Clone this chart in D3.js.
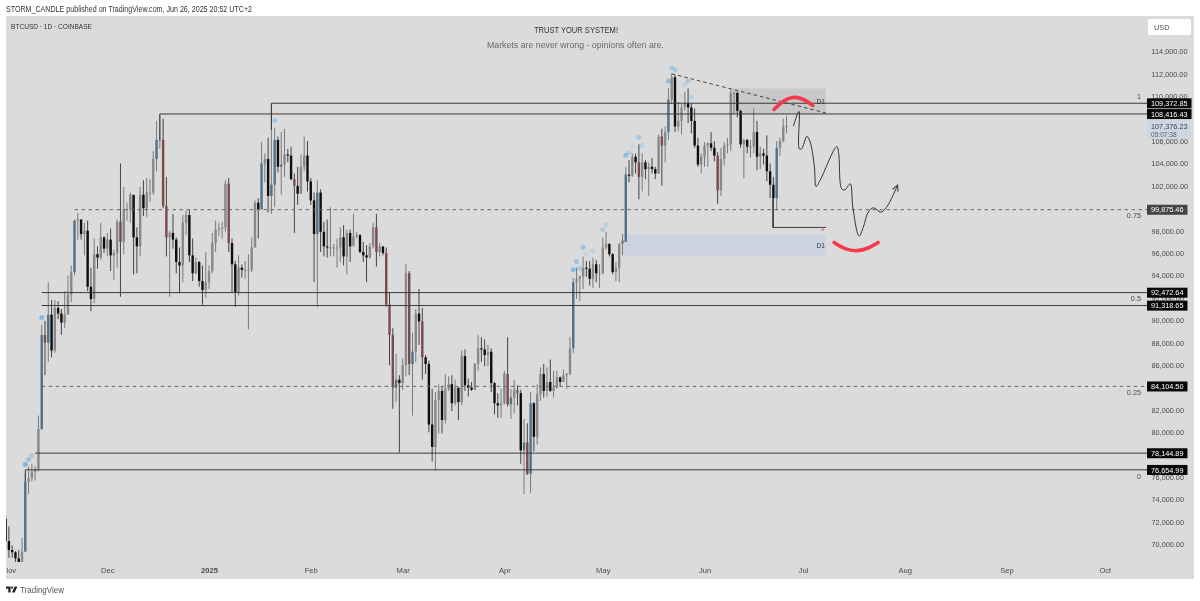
<!DOCTYPE html>
<html>
<head>
<meta charset="utf-8">
<script src="https://cdn.jsdelivr.net/npm/d3@7"></script>
<style>
  html, body { margin: 0; padding: 0; background: #fff; }
  svg { display: block; filter: blur(.35px); }
  text { font-family: "Liberation Sans", Arial, sans-serif; }
  .domain { display: none; }
</style>
</head>
<body>
<div class="canvas"></div>
<script>
// Daily candles, Oct 31 2024 to Jun 26 2025. Each open is the previous close.
const firstDay = '2024-10-31';
const firstOpen = 72300;

const closes = [
  70300,
  69500, 69300, 68750, 67800, 69350, 75600, 75900, 76500, 76700, 80300,
  88700, 88000, 90500, 87300, 91100, 90600, 89800, 90500, 92300, 94300,
  98900, 99000, 97700, 98000, 93000, 91900, 95900, 95600, 97400, 96400,
  97200, 95800, 96000, 98800, 97000, 99900, 99900, 101200, 97400, 96600,
  101200, 100000, 101400, 101400, 104400, 106100, 106100, 100200, 97400, 97800,
  97200, 95200, 94900, 98700, 99400, 95800, 94200, 95200, 93500, 92700, 93400,
  94400, 96900, 98100, 98200, 98300, 102200, 96900, 95000, 92500, 94700,
  94500, 94500, 94500, 96500, 100500, 99900, 104000, 104400, 101100, 102100,
  106100, 103700, 103900, 104800, 104700, 102600, 102000, 101300, 103700, 104700, 102400,
  100700, 97700, 101400, 97900, 96600, 96500, 96500, 96500, 96500, 97400,
  95700, 97800, 96600, 97500, 97600, 96100, 95800, 95600, 96600, 98300,
  96100, 96600, 96000, 91400, 88700, 84000, 84700, 84400,
  86000, 94200, 86100, 87200, 90600, 89900, 86700, 86100, 80700, 78700,
  82900, 83700, 81100, 83900, 84300, 82600, 84000, 82700, 86800, 84200,
  84000, 83800, 86100, 87500, 87400, 86900, 87200, 84400, 82600, 82400, 82600,
  85200, 82500, 83100, 83800, 83500, 78400, 79100, 76300, 82600, 79600,
  83400, 85200, 83700, 84500, 83700, 84000, 84900, 84500, 85100, 85200,
  87500, 93400, 93700, 93900, 94700, 94600, 93700, 95000, 94200, 94200,
  96500, 96800, 95900, 94300, 94700, 96800, 97000, 103000, 102900, 104600,
  104100, 102800, 104100, 103500, 103700, 103500, 103100, 106400, 105600, 106800,
  109700, 111700, 107300, 107800, 109000, 109400, 109000, 107800, 105600, 103900, 104600,
  105600, 105800, 105400, 104700, 101600, 104400, 105600, 105700, 110300, 110300,
  108700, 105700, 106100, 105500, 105500, 106800, 104600, 104900, 104700, 103300,
  102100, 100900, 105400, 106000, 107300, 107376
];
const highs = [
  72700,
  71600, 69900, 69400, 69500, 70570, 76400, 76950, 77200, 77000, 81500,
  89600, 89950, 93400, 91800, 91800, 91700, 91000, 92600, 94000, 94900,
  99000, 99600, 99000, 98700, 98900, 94700, 97300, 96600, 98700, 97500,
  97800, 98200, 96300, 99000, 104000, 101900, 100500, 101400, 101200, 98300,
  101900, 102500, 102700, 102600, 105100, 107800, 108300, 108000, 102800, 98000,
  99500, 97400, 96500, 99400, 99800, 99900, 97300, 95600, 95300, 94900, 96100,
  94900, 97800, 98900, 98700, 98800, 102500, 102700, 97300, 95300, 95800,
  95000, 95300, 95900, 97400, 100700, 100900, 105900, 104900, 106300, 109372,
  107200, 106400, 106800, 107100, 105300, 105500, 103100, 103700, 104800, 106400, 106000,
  102700, 101400, 102500, 101700, 98800, 99000, 100100, 96800, 97300, 98300,
  98500, 98100, 98100, 99500, 97900, 97700, 97000, 96700, 96900, 98700,
  99500, 96900, 96500, 96500, 92500, 89300, 87000, 85100,
  86600, 95000, 94400, 88900, 91000, 92800, 91100, 86900, 86400, 83900,
  83600, 84300, 84100, 85200, 85000, 85100, 84700, 83900, 87300, 87400,
  84800, 84500, 86200, 88700, 88500, 88300, 87800, 87500, 84500, 83500, 83900,
  85500, 88500, 83900, 84700, 84200, 83800, 81200, 80800, 83600, 82700,
  84300, 85800, 86100, 85800, 86500, 85500, 85500, 85000, 85600, 85300,
  88500, 93800, 94700, 94000, 95700, 95300, 95300, 95600, 95400, 95000,
  97400, 97900, 96900, 96000, 95200, 96900, 97700, 103700, 104300, 104900,
  104900, 105700, 104900, 104300, 104100, 104500, 103700, 106600, 107100, 107300,
  110700, 112000, 111900, 109500, 109300, 110400, 110700, 109300, 108900, 106300, 104900,
  105900, 105900, 106800, 106000, 105000, 105400, 105900, 106300, 110600, 110400,
  110400, 108800, 106200, 106200, 106100, 108900, 107800, 105500, 105300, 106500,
  104000, 102800, 106000, 106300, 108000, 108272
];
const lows = [
  69700,
  68800, 68800, 66800, 66800, 67450, 69400, 74500, 75600, 75700, 76500,
  80200, 85100, 86300, 86700, 87100, 90100, 88700, 89300, 91500, 91600,
  94000, 97200, 97200, 95800, 92600, 90800, 91500, 94600, 95400, 96000,
  95700, 94400, 93600, 94700, 92100, 95900, 98900, 98700, 94100, 94200,
  95700, 99300, 99200, 100600, 101200, 103300, 105300, 100000, 95700, 92100,
  96400, 94200, 92400, 93400, 97600, 95200, 93500, 94100, 93000, 91400, 92000,
  92800, 94200, 96100, 97500, 97300, 97900, 96100, 92500, 91200, 92200,
  93800, 93700, 89200, 94300, 96500, 97300, 99900, 102300, 99600, 99500,
  100100, 103200, 101200, 102800, 104100, 102500, 97800, 100300, 101300, 103300, 101500,
  100300, 93400, 91200, 96100, 95700, 95600, 95700, 95700, 94700, 95200,
  94900, 94100, 95200, 96800, 97300, 96000, 95200, 93400, 95500, 96400,
  94800, 95700, 95800, 91200, 86000, 82100, 82700, 78200,
  83800, 85000, 85100, 81500, 86300, 87800, 84700, 85200, 80000, 77400,
  76600, 79900, 79900, 80800, 83700, 81900, 82400, 81100, 82400, 83700,
  83200, 83700, 83800, 85500, 86300, 85900, 85900, 83600, 81600, 81300, 81300,
  82500, 82300, 81200, 81700, 82400, 77200, 74500, 76200, 74600, 78300,
  78900, 82800, 83100, 83200, 83600, 83100, 83900, 84100, 84500, 83900,
  85100, 87100, 91900, 91700, 92800, 93900, 93100, 92900, 93400, 92900,
  94100, 96300, 95700, 94100, 93500, 93400, 95800, 97300, 102300, 102800,
  103100, 100800, 101500, 102600, 101100, 103100, 102600, 103100, 102000, 104100,
  106100, 109300, 106800, 106900, 106600, 108700, 107600, 106700, 105400, 103700, 103100,
  103700, 103700, 105100, 104200, 100400, 101100, 103800, 104900, 105100, 108400,
  108100, 105400, 102700, 104900, 104500, 104900, 103400, 103500, 103900, 102400,
  100900, 98290, 99800, 104700, 105900, 106700
];

const blueDays = ['2024-11-06', '2024-11-11', '2024-11-13', '2024-11-21', '2024-12-16', '2025-01-17', '2025-01-20',
  '2025-01-21', '2025-01-23', '2025-02-03', '2025-02-27', '2025-03-04', '2025-04-03', '2025-04-05', '2025-04-07',
  '2025-04-09', '2025-04-22', '2025-05-08', '2025-05-21', '2025-06-23'];
const redDays = ['2024-11-12', '2024-12-05', '2024-12-18', '2024-12-19', '2025-01-07', '2025-01-27', '2025-02-21',
  '2025-02-24', '2025-02-25', '2025-02-26', '2025-03-03', '2025-03-07', '2025-04-02', '2025-04-08', '2025-05-12',
  '2025-05-19', '2025-06-05'];

// Horizontal levels
const levelPrices = [109372.85, 108416.43, 99875.46, 92472.64, 91318.65, 84104.50, 78144.89, 76654.99];
const levelStarts = ['2025-01-20', '2024-12-17', '2024-11-21', '2024-11-11', '2024-11-11', '2024-11-11', '2024-11-09', '2024-11-06'];
const levelDashed = [false, false, true, false, false, true, false, false];
const fibLabels = ['1', '0.75', '0.5', '0.25', '0'];
const fibPrices = [110000, 99340, 91950, 83560, 76030];

// Blue signal dots
const dotDays = ['2024-11-06', '2024-11-07', '2024-11-08', '2024-11-11', '2025-01-21', '2025-04-22', '2025-04-23',
  '2025-04-24', '2025-04-25', '2025-04-26', '2025-04-28', '2025-05-01', '2025-05-02', '2025-05-08', '2025-05-09',
  '2025-05-10', '2025-05-12', '2025-05-13', '2025-05-21', '2025-05-22', '2025-05-23', '2025-05-25', '2025-05-26',
  '2025-05-27', '2025-05-28'];
const dotPrices = [77123, 77570, 77928, 90249, 107839, 94508, 95241, 94652, 96526, 95874, 96204, 98107, 98527,
  104740, 104955, 105544, 106348, 105607, 111348, 112544, 112366, 109982, 111027, 111348, 109919];
const dotAlpha = [.9, .6, .45, .8, .5, .75, .6, .45, .6, .15, .3, .4, .3, .75, .35, .12, .5, .3, .7, .45, .4, .12, .25, .45, .3];

// Hand drawn projection, in days after Nov 1 2024 and price
const forecastDays = [239.1, 240.8, 240.9, 241.6, 243.2, 244.2, 245.5, 246.0, 247.2, 252.3, 252.9, 253.8, 254.8, 256.4,
  257.2, 259.1, 260.4, 261.9, 263.5, 265.7, 267.5, 270.8];
const forecastPrices = [107333, 108643, 105310, 105310, 106411, 105904, 103672, 101946, 102482, 105518, 104863, 101738,
  101649, 102185, 100101, 97512, 98315, 99655, 100042, 99655, 100101, 102036];
const topArcDays = [233.2, 236, 239, 242, 245];
const topArcPrices = [108821, 109625, 109982, 109803, 109178];
const bottomArcDays = [251.5, 254.8, 258.5, 261.9, 264.9];
const bottomArcPrices = [96946, 96320, 96142, 96410, 96946];

// Ticks fully covered by a price tag in the reference are left out
const priceTicks = [70000, 72000, 74000, 76000, 80000, 82000, 86000, 88000, 90000, 92000, 94000, 96000, 98000,
  102000, 104000, 106000, 110000, 112000, 114000];
const monthDays = ['2024-11-01', '2024-12-01', '2025-01-01', '2025-02-01', '2025-03-01', '2025-04-01', '2025-05-01',
  '2025-06-01', '2025-07-01', '2025-08-01', '2025-09-01', '2025-10-01'];
const monthLabels = ['Nov', 'Dec', '2025', 'Feb', 'Mar', 'Apr', 'May', 'Jun', 'Jul', 'Aug', 'Sep', 'Oct'];

const dims = { width: 1200, height: 601, left: 6, top: 16, right: 1194, bottom: 579, plotBottom: 562, plotRight: 1147 };
const colours = { bg: '#dbdbdb', up: '#888888', upWick: '#7a7a7a', down: '#0e0e0e', downWick: '#444444',
  blue: '#4f7189', red: '#7c4a4a', line: '#3a3a3a', red2: '#f5384e', text: '#4a4a4a' };

const parse = d3.utcParse('%Y-%m-%d');
const day0 = parse(firstDay);
const nov1 = parse('2024-11-01');
const dayFrac = d => new Date(nov1.getTime() + d * 864e5);

const x = d3.scaleUtc()
    .domain([parse('2024-11-06'), parse('2025-06-23')])
    .range([25.3, 776.7]);
const y = d3.scaleLinear()
    .domain([70000, 114000])
    .range([544.4, 51.4]);

const candles = closes.map((close, i) => ({
  date: d3.utcDay.offset(day0, i),
  open: i === 0 ? firstOpen : closes[i - 1],
  close: close,
  high: highs[i],
  low: lows[i]
}));
const fmtDay = d3.utcFormat('%Y-%m-%d');
const bodyColour = d => {
  if (blueDays.includes(fmtDay(d.date))) return colours.blue;
  if (redDays.includes(fmtDay(d.date))) return colours.red;
  return d.close >= d.open ? colours.up : colours.down;
};

const svg = d3.select('.canvas').append('svg')
    .attr('width', dims.width)
    .attr('height', dims.height);

svg.append('clipPath').attr('id', 'plot').append('rect')
    .attr('x', dims.left).attr('y', dims.top)
    .attr('width', dims.plotRight - dims.left).attr('height', dims.plotBottom - dims.top);

svg.append('rect')
    .attr('x', dims.left).attr('y', dims.top)
    .attr('width', dims.right - dims.left).attr('height', dims.bottom - dims.top)
    .attr('fill', colours.bg);

// Header and titles, fitted to the widths in the picture
const fitted = (tx, ty, size, fill, len, str) => svg.append('text')
    .attr('x', tx).attr('y', ty).attr('font-size', size).attr('fill', fill)
    .attr('textLength', len).attr('lengthAdjust', 'spacingAndGlyphs').text(str);
fitted(6, 12, 8.2, '#333', 246, 'STORM_CANDLE published on TradingView.com, Jun 26, 2025 20:52 UTC+2');
fitted(11, 28.5, 7.6, '#333', 81, 'BTCUSD · 1D · COINBASE');
fitted(534, 33, 8.4, '#333', 84, 'TRUST YOUR SYSTEM!');
fitted(487, 47.5, 9, '#6a6a6a', 177, 'Markets are never wrong - opinions often are.');

const plot = svg.append('g').attr('clip-path', 'url(#plot)');

// Zones
plot.append('rect')
    .attr('x', x(parse('2025-06-10')) - 2).attr('y', y(110700))
    .attr('width', x(parse('2025-07-08')) - x(parse('2025-06-10')) + 2).attr('height', y(108416) - y(110700))
    .attr('fill', '#c8c8c8');
plot.append('rect')
    .attr('x', x(parse('2025-05-07'))).attr('y', y(97650))
    .attr('width', x(parse('2025-07-08')) - x(parse('2025-05-07'))).attr('height', y(95800) - y(97650))
    .attr('fill', '#ccd2df');
plot.append('circle')
    .attr('cx', x(parse('2025-05-07'))).attr('cy', y(97000)).attr('r', 1.3)
    .attr('fill', 'none').attr('stroke', '#666').attr('stroke-width', .7);

// Signal dots
plot.selectAll('.dot').data(dotDays).join('circle')
    .attr('class', 'dot')
    .attr('cx', d => x(parse(d)))
    .attr('cy', (d, i) => y(dotPrices[i]))
    .attr('r', 2.5)
    .attr('fill', '#6fb3e6')
    .attr('opacity', (d, i) => dotAlpha[i]);

// Candles
const candle = plot.selectAll('.candle').data(candles).join('g').attr('class', 'candle');
candle.append('line')
    .attr('x1', d => x(d.date)).attr('x2', d => x(d.date))
    .attr('y1', d => y(d.high)).attr('y2', d => y(d.low))
    .attr('stroke', d => d.close >= d.open ? colours.upWick : colours.downWick)
    .attr('stroke-width', 1);
candle.append('rect')
    .attr('x', d => x(d.date) - 1.2)
    .attr('width', 2.4)
    .attr('y', d => y(Math.max(d.open, d.close)))
    .attr('height', d => Math.max(1, Math.abs(y(d.open) - y(d.close))))
    .attr('fill', bodyColour);

// Levels with the short drop at their anchor
levelPrices.forEach((price, i) => {
  plot.append('line')
      .attr('x1', x(parse(levelStarts[i]))).attr('x2', dims.plotRight)
      .attr('y1', y(price)).attr('y2', y(price))
      .attr('stroke', levelDashed[i] ? '#666' : colours.line)
      .attr('stroke-width', 1)
      .attr('stroke-dasharray', levelDashed[i] ? '3.5,3.5' : null);
});
plot.append('line')
    .attr('x1', x(parse('2024-12-17'))).attr('x2', x(parse('2024-12-17')))
    .attr('y1', y(108416)).attr('y2', y(106100)).attr('stroke', colours.line);
plot.append('line')
    .attr('x1', x(parse('2025-01-20'))).attr('x2', x(parse('2025-01-20')))
    .attr('y1', y(109372)).attr('y2', y(107000)).attr('stroke', colours.line);
plot.append('line')
    .attr('x1', x(parse('2024-11-06'))).attr('x2', x(parse('2024-11-06')))
    .attr('y1', y(76654)).attr('y2', y(75600)).attr('stroke', colours.line);
plot.append('path')
    .attr('d', d3.line()([[x(parse('2025-06-22')) - .7, y(100900)], [x(parse('2025-06-22')) - .7, y(98290)], [x(parse('2025-07-08')), y(98290)]]))
    .attr('fill', 'none').attr('stroke', colours.line);
plot.append('text')
    .attr('x', x(parse('2025-07-07'))).attr('y', y(97950))
    .attr('text-anchor', 'middle').attr('font-size', 7).attr('fill', colours.red2).text('x');

// Falling trend line
plot.append('line')
    .attr('x1', x(parse('2025-05-22'))).attr('y1', y(112000))
    .attr('x2', x(parse('2025-07-08'))).attr('y2', y(108500))
    .attr('stroke', '#444').attr('stroke-dasharray', '3.5,3');

[109300, 96450].forEach(p => {
  plot.append('text')
      .attr('x', x(parse('2025-07-08')) - 1).attr('y', y(p))
      .attr('text-anchor', 'end').attr('font-size', 6.6).attr('fill', '#333').text('D1');
});

// Projection and arcs
svg.append('defs').append('marker')
    .attr('id', 'arrow').attr('viewBox', '0 0 8 8').attr('refX', 6.5).attr('refY', 4)
    .attr('markerWidth', 8).attr('markerHeight', 8).attr('orient', 'auto')
    .append('path').attr('d', 'M1,1 L7,4 L1,7').attr('fill', 'none').attr('stroke', '#333').attr('stroke-width', 1);
plot.append('path')
    .attr('d', d3.line().curve(d3.curveCatmullRom.alpha(.5))(forecastDays.map((d, i) => [x(dayFrac(d)), y(forecastPrices[i])])))
    .attr('fill', 'none').attr('stroke', '#333').attr('stroke-width', 1)
    .attr('marker-end', 'url(#arrow)');
[[topArcDays, topArcPrices], [bottomArcDays, bottomArcPrices]].forEach(([days, prices]) => {
  plot.append('path')
      .attr('d', d3.line().curve(d3.curveBasis)(days.map((d, i) => [x(dayFrac(d)), y(prices[i])])))
      .attr('fill', 'none').attr('stroke', colours.red2).attr('stroke-width', 3.6).attr('stroke-linecap', 'round');
});

// Axes
const yAxis = svg.append('g')
    .attr('transform', `translate(${dims.plotRight},0)`)
    .call(d3.axisRight(y).tickValues(priceTicks).tickSize(0).tickPadding(4.5).tickFormat(d3.format(',.2f')));
yAxis.selectAll('text').attr('font-size', 7.3).attr('fill', colours.text).attr('font-family', '"Liberation Sans"');

svg.append('clipPath').attr('id', 'axisClip').append('rect').attr('x', 7).attr('y', -10).attr('width', 1140).attr('height', 40);
const xAxis = svg.append('g')
    .attr('transform', 'translate(0,567.5)')
    .attr('clip-path', 'url(#axisClip)')
    .call(d3.axisBottom(x).tickValues(monthDays.map(parse)).tickSize(0).tickPadding(0).tickFormat((d, i) => monthLabels[i]));
xAxis.selectAll('text').attr('font-size', 7.6).attr('fill', colours.text).attr('font-family', '"Liberation Sans"').attr('dy', '.71em');
xAxis.selectAll('text').filter((d, i) => monthLabels[i] === '2025').attr('font-weight', 'bold');

// Fib labels
plot.selectAll('.fib').data(fibLabels).join('text')
    .attr('class', 'fib')
    .attr('x', 1141)
    .attr('y', (d, i) => y(fibPrices[i]) + 2.5)
    .attr('text-anchor', 'end')
    .attr('font-size', 7.3)
    .attr('fill', colours.text)
    .text(d => d);

// Price tags
levelPrices.forEach((price, i) => {
  const tag = svg.append('g').attr('transform', `translate(${dims.plotRight},${y(price)})`);
  const label = tag.append('text').attr('x', 4).attr('y', 2.7).attr('font-size', 7.3).attr('fill', '#fff').text(d3.format(',.2f')(price));
  tag.insert('rect', 'text').attr('x', 0).attr('y', -4.9).attr('height', 10)
      .attr('width', label.node().getComputedTextLength() + 8)
      .attr('fill', levelDashed[i] && price > 90000 ? '#444' : '#080808');
});
svg.append('rect').attr('x', dims.plotRight).attr('y', y(108416) + 6).attr('width', 44).attr('height', 19).attr('fill', '#cfd6e3');
svg.append('text').attr('x', dims.plotRight + 4).attr('y', 128.5).attr('font-size', 7.3).attr('fill', '#3c4658').text('107,376.23');
svg.append('text').attr('x', dims.plotRight + 4).attr('y', 136.5).attr('font-size', 6.6).attr('fill', '#56607a').text('05:07:38');

// USD box
svg.append('rect').attr('x', 1148).attr('y', 19).attr('width', 43).attr('height', 16).attr('rx', 2).attr('fill', '#fff');
svg.append('text').attr('x', 1154).attr('y', 30).attr('font-size', 7.3).attr('fill', colours.text).text('USD');

// Footer
const logo = svg.append('g').attr('transform', 'translate(6,586.5)').attr('fill', '#222');
logo.append('path').attr('d', 'M0,0 H4.6 V6 H2.3 V2.2 H0 Z');
logo.append('circle').attr('cx', 6).attr('cy', 1.1).attr('r', 1.1);
logo.append('path').attr('d', 'M8.6,0 H11.4 L8.7,6 H6 Z');
fitted(20, 593, 8.8, '#555', 44, 'TradingView');
</script>
</body>
</html>
